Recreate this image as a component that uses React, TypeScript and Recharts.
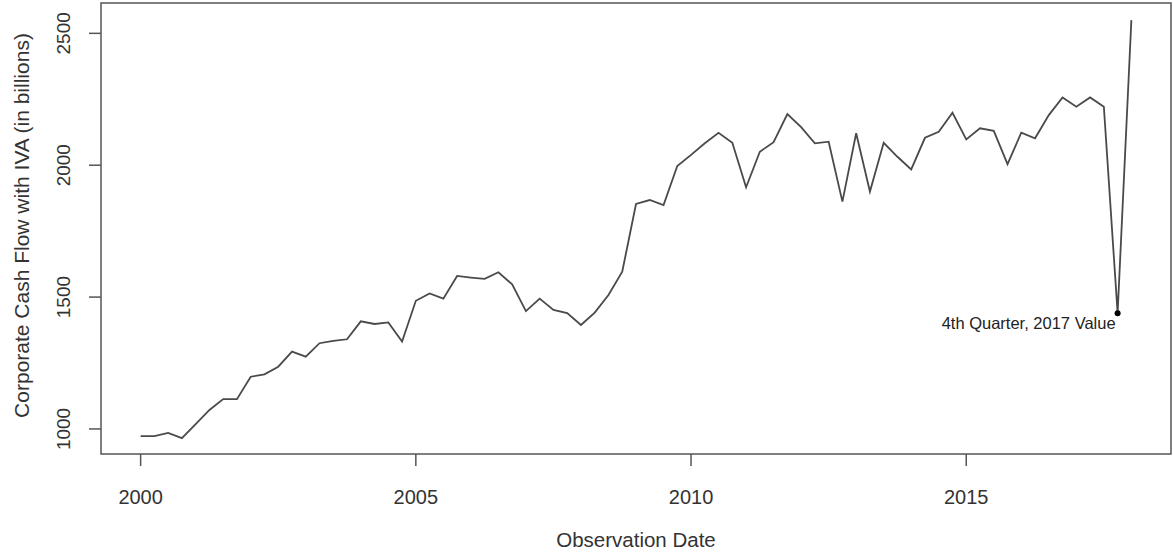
import { LineChart, Line, XAxis, YAxis, ReferenceArea, ReferenceDot } from 'recharts'

// quarterly observation dates (decimal years, Q1 2000 .. Q1 2018)
const dates = [
  2000, 2000.25, 2000.5, 2000.75,
  2001, 2001.25, 2001.5, 2001.75,
  2002, 2002.25, 2002.5, 2002.75,
  2003, 2003.25, 2003.5, 2003.75,
  2004, 2004.25, 2004.5, 2004.75,
  2005, 2005.25, 2005.5, 2005.75,
  2006, 2006.25, 2006.5, 2006.75,
  2007, 2007.25, 2007.5, 2007.75,
  2008, 2008.25, 2008.5, 2008.75,
  2009, 2009.25, 2009.5, 2009.75,
  2010, 2010.25, 2010.5, 2010.75,
  2011, 2011.25, 2011.5, 2011.75,
  2012, 2012.25, 2012.5, 2012.75,
  2013, 2013.25, 2013.5, 2013.75,
  2014, 2014.25, 2014.5, 2014.75,
  2015, 2015.25, 2015.5, 2015.75,
  2016, 2016.25, 2016.5, 2016.75,
  2017, 2017.25, 2017.5, 2017.75,
  2018,
]

// corporate cash flow with IVA, billions
const cashFlow = [
  973, 973, 985, 965,
  1018, 1072, 1113, 1113,
  1198, 1207, 1236, 1293,
  1274, 1325, 1334, 1340,
  1408, 1398, 1404, 1331,
  1486, 1514, 1494, 1580,
  1574, 1569, 1594, 1548,
  1447, 1494, 1451, 1439,
  1394, 1441, 1508, 1596,
  1853, 1868, 1849, 1997,
  2039, 2083, 2123, 2085,
  1916, 2051, 2087, 2194,
  2144, 2083, 2089, 1862,
  2121, 1900, 2085, 2032,
  1984, 2104, 2127, 2199,
  2098, 2140, 2130, 2004,
  2123, 2102, 2190, 2257,
  2222, 2257, 2222, 1439,
  2550,
]

const xTicks = [2000, 2005, 2010, 2015]
const yTicks = [1000, 1500, 2000, 2500]

const highlightIndex = 71
const highlightLabel = '4th Quarter, 2017 Value'

const data = dates.map((t, i) => ({ t, value: cashFlow[i] }))

const font = '"Liberation Sans", Arial, sans-serif'
const ink = '#333'

function XTick({ x, y, payload }: any) {
  return (
    <text x={x} y={y + 36} textAnchor="middle" fontSize={20} fill={ink} fontFamily={font}>
      {payload.value}
    </text>
  )
}

function YTick({ x, y, payload }: any) {
  const bx = x - 17
  return (
    <text x={bx} y={y} transform={`rotate(-90, ${bx}, ${y})`} textAnchor="middle" fontSize={19} fill={ink} fontFamily={font}>
      {payload.value}
    </text>
  )
}

function XTitle({ viewBox }: any) {
  return (
    <text x={viewBox.x + viewBox.width / 2} y={viewBox.y + 93} textAnchor="middle" fontSize={20.5} fill={ink} fontFamily={font}>
      Observation Date
    </text>
  )
}

function YTitle({ viewBox }: any) {
  const cx = viewBox.x + 29
  const cy = viewBox.y + viewBox.height / 2 - 3
  return (
    <text x={cx} y={cy} transform={`rotate(-90, ${cx}, ${cy})`} textAnchor="middle" fontSize={21} fill={ink} fontFamily={font}>
      Corporate Cash Flow with IVA (in billions)
    </text>
  )
}

function DotLabel({ viewBox }: any) {
  const cx = viewBox.x + viewBox.width / 2
  const cy = viewBox.y + viewBox.height / 2
  return (
    <text x={cx - 2} y={cy + 16} textAnchor="end" fontSize={16.5} fill="#222" fontFamily={font}>
      {highlightLabel}
    </text>
  )
}

export default function App() {
  return (
    <div style={{ position: 'absolute', left: 0, top: 0, background: '#fff' }}>
      <LineChart width={1173} height={555} data={data} margin={{ top: 3, right: 2, bottom: 0, left: 0 }}>
        <XAxis
          dataKey="t"
          type="number"
          domain={[1999.28, 2018.72]}
          ticks={xTicks}
          allowDataOverflow
          axisLine={false}
          tickLine={{ stroke: '#555', strokeWidth: 1.5 }}
          tickSize={12}
          height={101}
          tick={<XTick />}
          label={{ content: <XTitle /> }}
        />
        <YAxis
          type="number"
          domain={[905, 2615]}
          ticks={yTicks}
          allowDataOverflow
          axisLine={false}
          tickLine={{ stroke: '#555', strokeWidth: 1.5 }}
          tickSize={12}
          width={101}
          tick={<YTick />}
          label={{ content: <YTitle /> }}
        />
        <ReferenceArea
          x1={1999.28}
          x2={2018.72}
          y1={905}
          y2={2615}
          fill="none"
          stroke="#555"
          strokeWidth={1.5}
          ifOverflow="visible"
        />
        <Line
          type="linear"
          dataKey="value"
          stroke="#4a4a4a"
          strokeWidth={1.8}
          dot={false}
          activeDot={false}
          isAnimationActive={false}
        />
        <ReferenceDot
          x={dates[highlightIndex]}
          y={cashFlow[highlightIndex]}
          r={3}
          fill="#000"
          stroke="none"
          label={{ content: <DotLabel /> }}
        />
      </LineChart>
    </div>
  )
}
